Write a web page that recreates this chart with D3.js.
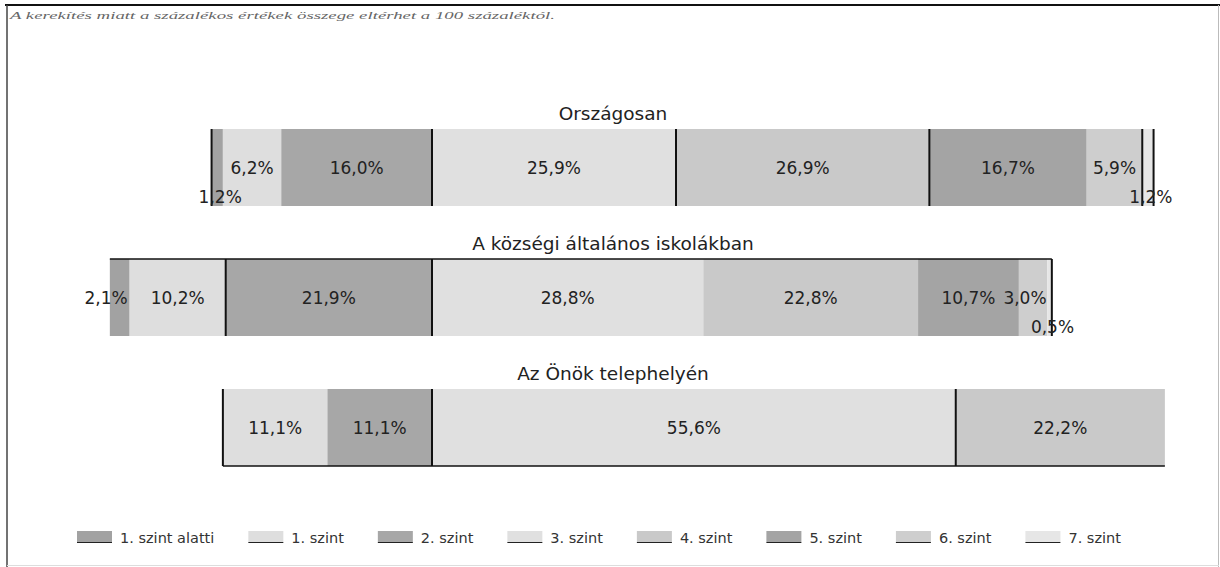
<!DOCTYPE html>
<html><head><meta charset="utf-8">
<script src="https://cdn.jsdelivr.net/npm/d3@7/dist/d3.min.js"></script>
<style>body{margin:0;background:#fff}svg{display:block;font-family:"DejaVu Sans",Verdana,sans-serif}</style>
</head><body>
<svg id="c" width="1220" height="567"></svg>
<script>
// ---- data ----
const levels = ["1. szint alatti","1. szint","2. szint","3. szint","4. szint","5. szint","6. szint","7. szint"];
const groups = ["Országosan","A községi általános iskolákban","Az Önök telephelyén"];
const valuesOrszagos = [1.2, 6.2, 16.0, 25.9, 26.9, 16.7, 5.9, 1.2];
const valuesKozsegi  = [2.1, 10.2, 21.9, 28.8, 22.8, 10.7, 3.0, 0.5];
const valuesTelep    = [0, 11.1, 11.1, 55.6, 22.2, 0, 0, 0];
const note = "A kerekítés miatt a százalékos értékek összege eltérhet a 100 százaléktól.";
// boundaries (series index where a dark rule is drawn; 8 = bar end)
const edgeRules = [[0,3,4,5,7,8],[2,3,8],[1,3,4]];
const hRules = ["none","top","bottom"];

const series = [valuesOrszagos, valuesKozsegi, valuesTelep];
const colors = ["#a2a2a2","#dedede","#a7a7a7","#e0e0e0","#c9c9c9","#a4a4a4","#cecece","#e6e6e6"];

const svg = d3.select("#c");
// frame
svg.append("line").attr("x1",5).attr("x2",1220).attr("y1",5).attr("y2",5).attr("stroke","#111").attr("stroke-width",2);
svg.append("line").attr("x1",7).attr("x2",7).attr("y1",5).attr("y2",567).attr("stroke","#444").attr("stroke-width",1.5);
svg.append("line").attr("x1",1218.5).attr("x2",1218.5).attr("y1",5).attr("y2",567).attr("stroke","#bbb").attr("stroke-width",1);
svg.append("line").attr("x1",7).attr("x2",1219).attr("y1",565.5).attr("y2",565.5).attr("stroke","#ddd").attr("stroke-width",1);

svg.append("text").attr("x",10).attr("y",19).attr("font-size",9.5).attr("font-style","italic")
  .attr("font-family","Liberation Serif, serif")
  .attr("fill","#666").attr("textLength",545).attr("lengthAdjust","spacingAndGlyphs").text(note);

const x = d3.scaleLinear().domain([-35, 80]).range([102.3, 1185.6]);
const y = d3.scaleBand().domain(groups).range([108, 498]).paddingInner(0.0).paddingOuter(0);
const barTop = g => y(g) + 21;
const barH = 77;

groups.forEach((g, gi) => {
  const vals = series[gi];
  const leftSum = d3.sum(vals.slice(0,3));
  let acc = -leftSum;
  const segs = vals.map((v,i) => { const s = {i, v, x0: acc, x1: acc + v}; acc += v; return s; });
  const gg = svg.append("g");
  gg.append("text").attr("x", 613).attr("y", barTop(g) - 9).attr("text-anchor","middle")
    .attr("font-size",18.5).attr("fill","#222").text(g);
  gg.selectAll("rect").data(segs.filter(s => s.v > 0)).join("rect")
    .attr("x", s => x(s.x0)).attr("width", s => x(s.x1) - x(s.x0))
    .attr("y", barTop(g)).attr("height", barH).attr("fill", s => colors[s.i]);
  // rules
  const bounds = segs.map(s => s.x0).concat([acc]);
  edgeRules[gi].forEach(k => {
    const bx = x(bounds[k]);
    gg.append("line").attr("x1",bx).attr("x2",bx).attr("y1",barTop(g)).attr("y2",barTop(g)+barH)
      .attr("stroke","#111").attr("stroke-width",2);
  });
  const first = segs.find(s => s.v > 0), last = [...segs].reverse().find(s => s.v > 0);
  if (hRules[gi] !== "none") {
    const hy = hRules[gi] === "top" ? barTop(g) : barTop(g) + barH;
    gg.append("line").attr("x1", x(first.x0)).attr("x2", x(last.x1)).attr("y1",hy).attr("y2",hy)
      .attr("stroke","#111").attr("stroke-width",1.5);
  }
  // labels
  gg.selectAll("text.v").data(segs.filter(s => s.v > 0)).join("text").attr("class","v")
    .attr("x", s => {
      const cx = (x(s.x0) + x(s.x1)) / 2;
      if (s.v < 1.5) return cx + 3;
      if (s.v < 2.5) return x(s.x1) - 2;
      if (s.v < 4) return cx - 8;
      return cx;
    })
    .attr("y", s => barTop(g) + barH/2 + 6 + (s.v < 1.5 ? 29 : 0))
    .attr("text-anchor", s => (s.v >= 1.5 && s.v < 2.5) ? "end" : "middle")
    .attr("font-size", 17).attr("fill","#222")
    .text(s => d3.format(".1f")(s.v).replace(".", ",") + "%");
});

// legend (flow layout)
const lg = svg.append("g").attr("transform","translate(0,531)");
let lxPos = 77;
levels.forEach((d, i) => {
  const it = lg.append("g").attr("transform", `translate(${lxPos},0)`);
  it.append("rect").attr("width",35).attr("height",11).attr("fill",colors[i]);
  it.append("line").attr("x1",0).attr("x2",35).attr("y1",11.5).attr("y2",11.5).attr("stroke","#222").attr("stroke-width",1.2);
  const t = it.append("text").attr("x",43).attr("y",11.5).attr("font-size",14.5).attr("fill","#333").text(d);
  lxPos += 43 + t.node().getComputedTextLength() + 34;
});
</script>
</body></html>
